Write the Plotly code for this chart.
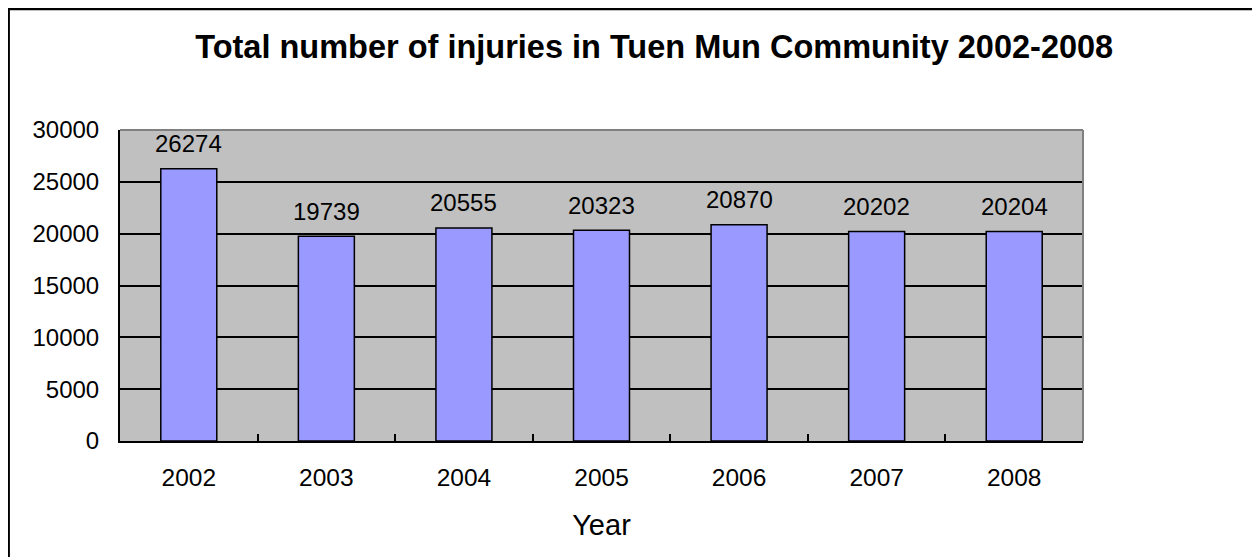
import plotly.graph_objects as go

years = ["2002", "2003", "2004", "2005", "2006", "2007", "2008"]
injuries = [26274, 19739, 20555, 20323, 20870, 20202, 20204]
y_ticks = [0, 5000, 10000, 15000, 20000, 25000, 30000]

W, H = 1260, 557
OFF = 8  # page body margin offset
# plot area in screen pixels: left 120, top 130, right 1083.5, bottom 441
ML = 120 - OFF
MT = 130 - OFF
MR = W - (1083.5 - OFF)
MB = H - (441 - OFF)
pw, ph = W - ML - MR, H - MT - MB

FONT = "Arial, Liberation Sans, sans-serif"

fig = go.Figure()
fig.add_trace(go.Bar(
    x=years, y=injuries,
    marker=dict(color="#9999FF", line=dict(color="black", width=1.5)),
    hoverinfo="x+y",
))

for i, v in enumerate(injuries):
    fig.add_annotation(x=i, y=v, xref="x", yref="y", text=str(v), showarrow=False,
                       yanchor="middle", yshift=25,
                       font=dict(family=FONT, size=24, color="black"))

def px_x(p):  # figure pixel -> paper x
    return (p - ML) / pw

def px_y(p):  # figure pixel -> paper y
    return (H - MB - p) / ph

shapes = [
    dict(type="line", xref="paper", yref="paper", x0=0, x1=1, y0=1, y1=1,
         line=dict(color="#808080", width=2)),
    dict(type="line", xref="paper", yref="paper", x0=1, x1=1, y0=0, y1=1,
         line=dict(color="#808080", width=2)),
    dict(type="line", xref="paper", yref="paper", x0=px_x(0), x1=px_x(W + 2),
         y0=px_y(1), y1=px_y(1), line=dict(color="black", width=2.5)),
    dict(type="line", xref="paper", yref="paper", x0=px_x(0.6), x1=px_x(0.6),
         y0=px_y(0), y1=px_y(H + 2), line=dict(color="black", width=2.5)),
]

fig.update_layout(
    width=W, height=H,
    margin=dict(l=ML, r=MR, t=MT, b=MB, pad=0, autoexpand=False),
    paper_bgcolor="white", plot_bgcolor="#C0C0C0",
    bargap=0.593,
    showlegend=False,
    shapes=shapes,
    title=dict(text="<b>Total number of injuries in Tuen Mun Community 2002-2008</b>",
               x=px_x(654.5 - OFF), xref="paper", xanchor="center",
               y=1 - (47 - OFF) / H, yref="container", yanchor="middle",
               font=dict(family=FONT, size=32.5, color="black")),
    font=dict(family=FONT, color="black"),
)

fig.update_xaxes(
    type="category", range=[-0.5, 6.5],
    showline=True, linecolor="black", linewidth=2,
    ticks="inside", tickson="boundaries", ticklen=7, tickcolor="black", tickwidth=2,
    showgrid=False, automargin=False, tickangle=0,
    tickfont=dict(family=FONT, size=24.5, color="black"),
    ticklabelstandoff=14,
    title=dict(text="Year", font=dict(family=FONT, size=29, color="black"), standoff=24),
)
fig.update_yaxes(
    range=[0, 30000], tickvals=y_ticks, ticktext=[str(t) for t in y_ticks],
    showline=True, linecolor="black", linewidth=2,
    ticks="inside", ticklen=7, tickcolor="black", tickwidth=2,
    showgrid=True, gridcolor="black", gridwidth=1.5,
    zeroline=False, automargin=False,
    tickfont=dict(family=FONT, size=24, color="black"),
    ticklabelstandoff=14,
)

fig.write_html("out.html")
